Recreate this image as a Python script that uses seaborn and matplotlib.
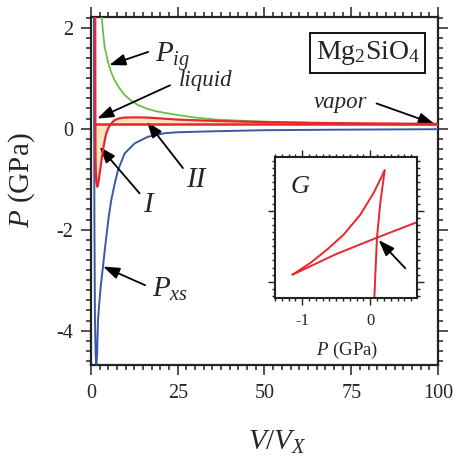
import numpy as np
import pandas as pd
import matplotlib
matplotlib.use("Agg")
import matplotlib.pyplot as plt
import seaborn as sns
from matplotlib.ticker import MultipleLocator

# ---------------- data ----------------
# ideal-gas pressure P_ig (green)
v_ig = [2.85, 3.17, 3.5, 3.94, 4.9, 5.8, 6.8, 8.2, 9.7, 11.5, 13.5, 16.0, 18.4, 21.5, 25.1, 30.0, 36.2, 45.8, 60.2, 80.0, 100.0]
p_ig = [2.5, 2.15, 1.9, 1.62, 1.32, 1.12, 0.96, 0.8, 0.67, 0.56, 0.47, 0.4, 0.35, 0.31, 0.27, 0.22, 0.18, 0.15, 0.12, 0.09, 0.08]

# excess pressure P_xs (blue)
v_xs = [0.86, 0.9, 1.0, 1.15, 1.35, 1.54, 1.75, 2.02, 2.4, 2.79, 3.46, 3.9, 4.42, 5.1, 5.86, 6.8, 7.78, 9.7, 12.6, 16.4, 21.2, 25.1, 36.0, 50.0, 70.0, 100.0]
p_xs = [2.5, 0.5, -2.0, -3.8, -4.5, -4.66, -4.5, -3.79, -3.45, -3.13, -2.73, -2.45, -2.14, -1.75, -1.41, -1.1, -0.82, -0.49, -0.29, -0.16, -0.09, -0.07, -0.05, -0.03, -0.02, -0.01]

# total pressure (red)
v_tot = [1.22, 1.25, 1.27, 1.3, 1.4, 1.55, 1.8, 2.1, 2.5, 3.0, 3.46, 4.0, 4.4, 5.4, 6.8, 8.2, 9.7, 13.0, 16.4, 25.1, 35.0, 50.0, 70.0, 100.0]
p_tot = [2.5, 0.8, 0.09, -0.5, -0.85, -1.05, -1.15, -1.08, -0.89, -0.64, -0.42, -0.22, -0.09, 0.07, 0.17, 0.205, 0.22, 0.225, 0.22, 0.18, 0.155, 0.13, 0.11, 0.095]

# coexistence pressure (Maxwell line) from liquid to vapor
p_eq = 0.09
v_liquid = 1.27
v_vapor = 100.0

# inset: G versus P, three branches
g_branch_a_p = [-1.143, -0.5, 0.098, 0.69]
g_branch_a_g = [0.099, 0.39, 0.62, 0.84]
g_branch_b_p = [-1.143, -0.882, -0.637, -0.392, -0.147, 0.049, 0.211]
g_branch_b_g = [0.099, 0.263, 0.451, 0.662, 0.944, 1.249, 1.568]
g_branch_c_p = [0.211, 0.147, 0.098, 0.059, 0.055]
g_branch_c_g = [1.568, 1.11, 0.62, -0.23, -0.3]

x_ticks = [0, 25, 50, 75, 100]
y_ticks = [-4, -2, 0, 2]
y_tick_labels = ["-4", "-2", "0", "2"]
inset_x_ticks = [-1, 0]
inset_x_labels = ["-1", "0"]

RED = "#e8262b"
GREEN = "#6abf45"
BLUE = "#3a57a7"
FILL = "#fce5c0"

# ---------------- style ----------------
sns.set_theme(style="ticks")
plt.rcParams["font.family"] = ["Liberation Serif", "DejaVu Serif"]
plt.rcParams["mathtext.fontset"] = "custom"
plt.rcParams["mathtext.rm"] = "Liberation Serif"
plt.rcParams["mathtext.it"] = "Liberation Serif:italic"
plt.rcParams["mathtext.bf"] = "Liberation Serif:bold"
plt.rcParams["axes.unicode_minus"] = False

fig = plt.figure(figsize=(4.54, 4.62), dpi=100)
ax = fig.add_axes([0.2004, 0.211, 0.7643, 0.752])

# fill areas I and II
v_arr = np.array(v_tot)
p_arr = np.array(p_tot)
ax.fill_between(v_arr, p_arr, p_eq, where=v_arr >= v_liquid, interpolate=True,
                color=FILL, lw=0, zorder=1)

sns.lineplot(x=v_ig, y=p_ig, ax=ax, color=GREEN, lw=1.3, sort=False, estimator=None, zorder=3)
sns.lineplot(x=v_xs, y=p_xs, ax=ax, color=BLUE, lw=1.4, sort=False, estimator=None, zorder=3)
sns.lineplot(x=[v_liquid, v_vapor], y=[p_eq, p_eq], ax=ax, color=RED, lw=1.8, sort=False, estimator=None, zorder=4)
sns.lineplot(x=v_tot, y=p_tot, ax=ax, color=RED, lw=1.6, sort=False, estimator=None, zorder=4)

ax.set_xlim(0, 100)
ax.set_ylim(-4.67, 2.21)
ax.set_xticks(x_ticks)
ax.set_xticklabels([str(t) for t in x_ticks])
ax.set_yticks(y_ticks)
ax.set_yticklabels(y_tick_labels)
ax.xaxis.set_minor_locator(MultipleLocator(2.5))
ax.yaxis.set_minor_locator(MultipleLocator(0.2))
ax.tick_params(which="both", direction="out", top=True, right=True, width=1.1, color="#222222")
ax.tick_params(which="major", length=7, labelsize=14.5, pad=7)
ax.tick_params(which="minor", length=3.6)
ax.tick_params(axis="y", which="major", pad=6)
for s in ax.spines.values():
    s.set_linewidth(1.6)
    s.set_color("#222222")
    s.set_visible(True)

ax.set_xlabel(r"$V/V_X$", fontsize=21)
ax.set_ylabel(r"$P$ (GPa)", fontsize=21)
ax.xaxis.set_label_coords(0.536, -0.185)
ax.yaxis.set_label_coords(-0.155, 0.53)

# annotations
arrow = dict(arrowstyle="-|>,head_length=0.7,head_width=0.25", color="black", lw=1.3,
             shrinkA=0, shrinkB=0, mutation_scale=14)
ax.annotate("", xy=(5.27, 1.26), xytext=(16.5, 1.52), arrowprops=arrow)
ax.text(18.4, 1.32, r"$P_{ig}$", fontsize=21, ha="left", va="baseline")
ax.annotate("", xy=(1.8, 0.20), xytext=(22.8, 0.86), arrowprops=arrow)
ax.text(33.1, 0.96, "liquid", fontsize=16.5, style="italic", ha="center", va="center")
ax.annotate("", xy=(16.1, 0.14), xytext=(26.5, -0.78), arrowprops=arrow)
ax.text(30.3, -1.02, "II", fontsize=21, style="italic", ha="center", va="center")
ax.annotate("", xy=(2.5, -0.36), xytext=(14.0, -1.28), arrowprops=arrow)
ax.text(16.3, -1.51, "I", fontsize=21, style="italic", ha="center", va="center")
ax.annotate("", xy=(3.5, -2.73), xytext=(15.6, -3.10), arrowprops=arrow)
ax.text(17.5, -3.33, r"$P_{xs}$", fontsize=21, ha="left", va="baseline")
ax.annotate("", xy=(99.1, 0.09), xytext=(82.3, 0.50), arrowprops=arrow)
ax.text(71.8, 0.52, "vapor", fontsize=16.5, style="italic", ha="center", va="center")
ax.text(79.8, 1.50, r"Mg$_2$SiO$_4$", fontsize=20, ha="center", va="center",
        bbox=dict(boxstyle="square,pad=0.2", fc="white", ec="black", lw=1.3))

# ---------------- inset ----------------
ins = fig.add_axes([0.6057, 0.3556, 0.3134, 0.3052])
ins.set_facecolor("white")
for bp, bg in [(g_branch_a_p, g_branch_a_g), (g_branch_b_p, g_branch_b_g), (g_branch_c_p, g_branch_c_g)]:
    sns.lineplot(x=bp, y=bg, ax=ins, color=RED, lw=1.4, sort=False, estimator=None)
ins.set_xlim(-1.40, 0.69)
ins.set_ylim(-0.225, 1.76)
ins.set_xticks(inset_x_ticks)
ins.set_xticklabels(inset_x_labels)
ins.set_yticks([0, 1])
ins.set_yticklabels([])
ins.xaxis.set_minor_locator(MultipleLocator(0.1))
ins.yaxis.set_minor_locator(MultipleLocator(0.1))
ins.tick_params(which="both", direction="out", top=True, right=True, width=1.0, color="#222222")
ins.tick_params(which="major", length=5, labelsize=12, pad=6)
ins.tick_params(which="minor", length=2.5)
for s in ins.spines.values():
    s.set_linewidth(1.5)
    s.set_color("#222222")
    s.set_visible(True)
ins.set_xlabel(r"$P$ (GPa)", fontsize=13.5)
ins.xaxis.set_label_coords(0.506, -0.30)
ins.set_ylabel("")
ins.text(-1.03, 1.34, "G", fontsize=19, style="italic", ha="center", va="center")
ins.annotate("", xy=(0.122, 0.587), xytext=(0.515, 0.189),
             arrowprops=dict(arrowstyle="-|>,head_length=0.7,head_width=0.25", color="black",
                             lw=1.3, shrinkA=0, shrinkB=0, mutation_scale=14))

fig.savefig("out.png", dpi=100)
